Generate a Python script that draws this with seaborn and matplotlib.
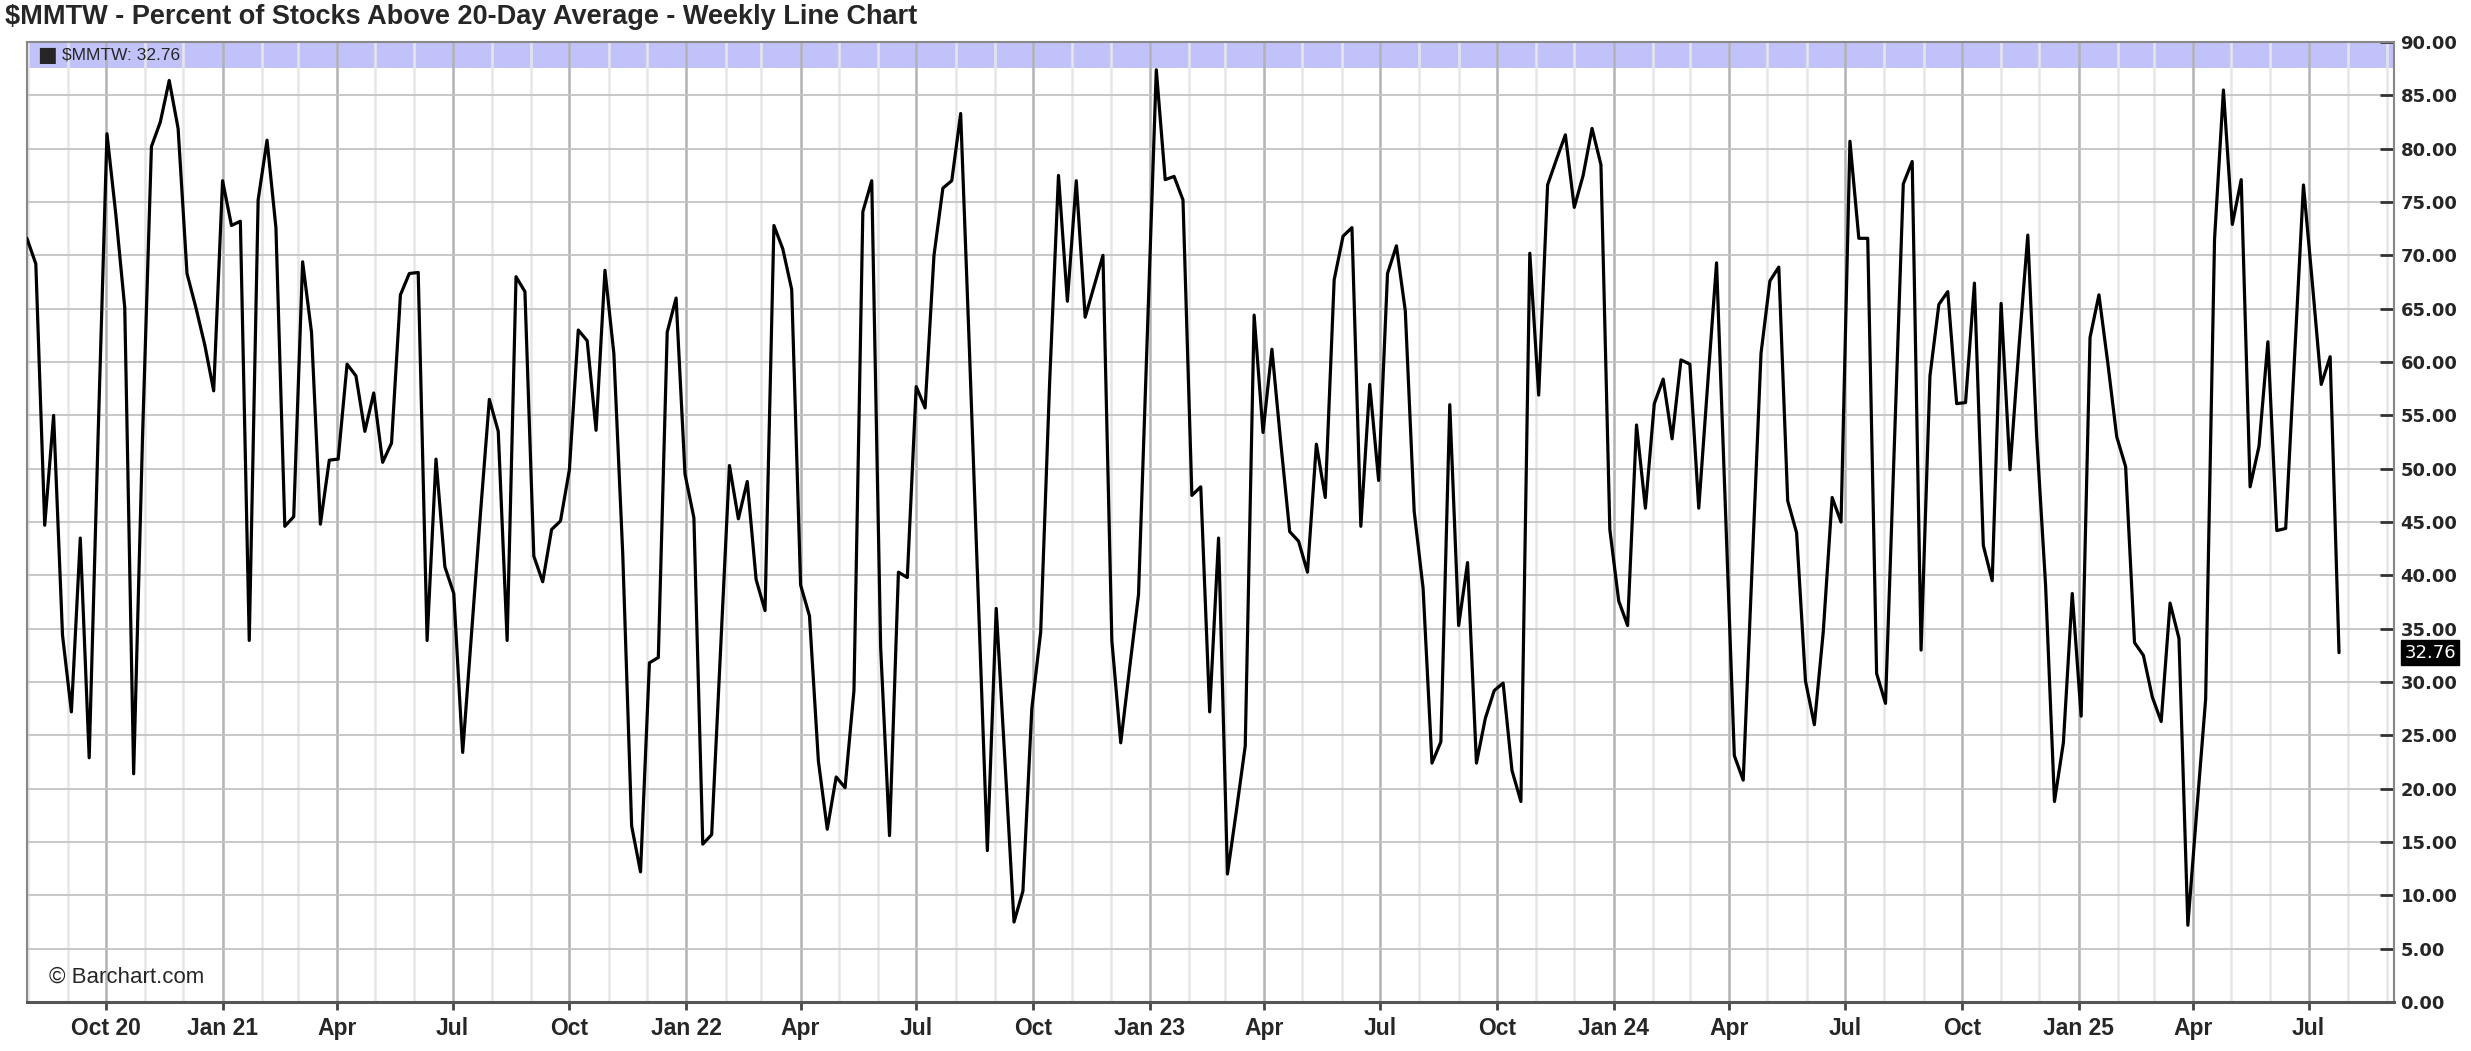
import numpy as np
import pandas as pd
import matplotlib
matplotlib.use("Agg")
import matplotlib.pyplot as plt
import matplotlib.dates as mdates
import seaborn as sns

# ==================================================
# DATA
# ==================================================

symbol = "$MMTW"
chart_title = "$MMTW - Percent of Stocks Above 20-Day Average - Weekly Line Chart"

first_week = "2020-07-31"

pct_above_20d = [
    71.6, 69.2, 44.7, 55.0, 34.4, 27.2, 43.5, 22.9, 53.0, 81.4,
    73.8, 65.1, 21.4, 53.0, 80.2, 82.5, 86.4, 81.9, 68.3, 65.1,
    61.6, 57.3, 77.0, 72.8, 73.2, 33.9, 75.2, 80.8, 72.6, 44.6,
    45.5, 69.4, 62.8, 44.8, 50.8, 50.9, 59.8, 58.7, 53.5, 57.1,
    50.6, 52.4, 66.3, 68.3, 68.4, 33.9, 50.9, 40.8, 38.3, 23.4,
    34.6, 45.8, 56.5, 53.5, 33.9, 68.0, 66.6, 41.8, 39.4, 44.3,
    45.1, 49.9, 63.0, 62.0, 53.6, 68.6, 60.8, 42.0, 16.5, 12.2,
    31.8, 32.3, 62.8, 66.0, 49.5, 45.4, 14.8, 15.7, 33.0, 50.3,
    45.3, 48.8, 39.6, 36.7, 72.8, 70.6, 66.8, 39.1, 36.2, 22.6,
    16.2, 21.1, 20.1, 29.2, 74.1, 77.0, 33.3, 15.6, 40.3, 39.8,
    57.7, 55.7, 70.0, 76.3, 77.0, 83.3, 60.8, 37.6, 14.2, 36.9,
    22.3, 7.5, 10.4, 27.5, 34.7, 58.0, 77.5, 65.7, 77.0, 64.2,
    67.1, 70.0, 33.9, 24.3, 31.3, 38.2, 62.8, 87.4, 77.1, 77.4,
    75.2, 47.5, 48.3, 27.2, 43.5, 12.0, 17.9, 24.0, 64.4, 53.4,
    61.2, 52.4, 44.1, 43.2, 40.3, 52.3, 47.3, 67.7, 71.8, 72.6,
    44.6, 57.9, 48.9, 68.3, 70.9, 64.8, 46.0, 38.8, 22.4, 24.4,
    56.0, 35.3, 41.2, 22.4, 26.6, 29.2, 29.9, 21.7, 18.8, 70.2,
    56.9, 76.6, 79.0, 81.3, 74.5, 77.5, 81.9, 78.5, 44.3, 37.6,
    35.3, 54.1, 46.3, 56.1, 58.4, 52.8, 60.2, 59.8, 46.3, 57.9,
    69.3, 46.2, 23.1, 20.8, 40.8, 60.8, 67.6, 68.9, 47.0, 44.0,
    30.1, 26.0, 34.7, 47.3, 45.0, 80.7, 71.6, 71.6, 30.8, 28.0,
    52.4, 76.7, 78.8, 33.0, 58.7, 65.4, 66.6, 56.1, 56.2, 67.4,
    42.8, 39.5, 65.5, 49.9, 61.3, 71.9, 53.0, 39.1, 18.8, 24.3,
    38.3, 26.8, 62.3, 66.3, 59.9, 53.0, 50.2, 33.7, 32.5, 28.6,
    26.3, 37.4, 34.1, 7.2, 17.9, 28.4, 71.5, 85.5, 72.9, 77.1,
    48.3, 52.1, 61.9, 44.2, 44.4, 60.5, 76.6, 67.4, 57.9, 60.5,
    32.76
]

tick_dates = pd.to_datetime([
    "2020-10-01", "2021-01-01", "2021-04-01", "2021-07-01",
    "2021-10-01", "2022-01-01", "2022-04-01", "2022-07-01",
    "2022-10-01", "2023-01-01", "2023-04-01", "2023-07-01",
    "2023-10-01", "2024-01-01", "2024-04-01", "2024-07-01",
    "2024-10-01", "2025-01-01", "2025-04-01", "2025-07-01"
])

tick_labels = [
    "Oct 20", "Jan 21", "Apr", "Jul",
    "Oct", "Jan 22", "Apr", "Jul",
    "Oct", "Jan 23", "Apr", "Jul",
    "Oct", "Jan 24", "Apr", "Jul",
    "Oct", "Jan 25", "Apr", "Jul"
]

y_ticks = [0, 5, 10, 15, 20, 25, 30, 35, 40, 45, 50, 55, 60, 65, 70, 75, 80, 85, 90]

df = pd.DataFrame({
    "Date": pd.date_range(first_week, periods=len(pct_above_20d), freq="W-FRI"),
    "Value": pct_above_20d
})

last_value = pct_above_20d[-1]

# ==================================================
# STYLE
# ==================================================

sns.set_theme(style="white")
plt.rcParams["font.family"] = ["DejaVu Sans"]

narrow = ["Liberation Sans"]

# ==================================================
# PLOT
# ==================================================

fig = plt.figure(figsize=(24.71, 10.51), dpi=100)
ax = fig.add_axes([0.0109, 0.0466, 0.9578, 0.9134])

sns.lineplot(
    data=df,
    x="Date",
    y="Value",
    color="black",
    linewidth=2.3,
    ax=ax,
    zorder=3
)

ax.set_xlim(df["Date"].iloc[0], pd.Timestamp("2025-09-06"))
ax.set_ylim(0, 90)

# top band with legend
ax.axhspan(87.6, 90, color="#c2c2fb", zorder=0.2, lw=0)

ax.set_axisbelow(True)

# x axis
ax.set_xticks(tick_dates)
ax.set_xticklabels(tick_labels, fontfamily=narrow, fontweight="bold", fontsize=16.5)
ax.xaxis.set_minor_locator(mdates.MonthLocator())
ax.tick_params(axis="x", which="major", direction="out", length=6, width=2,
               color="#444444", pad=5, bottom=True)
ax.tick_params(axis="x", which="minor", length=0)

# y axis on the right
ax.yaxis.tick_right()
ax.set_yticks(y_ticks)
ax.set_yticklabels([f"{v:.2f}" for v in y_ticks], fontweight="bold", fontsize=13)
ax.tick_params(axis="y", direction="in", length=10, width=2, color="#333333",
               pad=5, right=True, left=False)

ax.set_xlabel("")
ax.set_ylabel("")

# grid
ax.grid(which="major", axis="y", color="#c4c4c4", linewidth=1.3)
ax.grid(which="major", axis="x", color="#b2b2b2", linewidth=1.8)
ax.grid(which="minor", axis="x", color="#e6e6e6", linewidth=1.8)

for side in ["left", "right", "top"]:
    ax.spines[side].set_color("#888888")
    ax.spines[side].set_linewidth(1.5)
ax.spines["bottom"].set_color("#555555")
ax.spines["bottom"].set_linewidth(2.2)

# ==================================================
# TEXT
# ==================================================

fig.text(
    0.002, 0.984,
    chart_title.replace("$", "\\$"),
    fontfamily=narrow,
    fontweight="bold",
    fontsize=19.5,
    va="center",
    ha="left"
)

ax.text(
    0.0045, 0.9865,
    "\u25A0",
    transform=ax.transAxes,
    fontsize=15,
    va="center",
    ha="left"
)

ax.text(
    0.0148, 0.9865,
    f"{symbol}: {last_value:.2f}".replace("$", "\\$"),
    transform=ax.transAxes,
    fontfamily=["Liberation Sans"],
    fontsize=12.5,
    va="center",
    ha="left"
)

ax.text(
    0.0095, 0.026,
    "\u00A9 Barchart.com",
    transform=ax.transAxes,
    fontfamily=narrow,
    fontsize=16,
    va="center",
    ha="left"
)

# last value tag on the price axis
ax.text(
    1.0045, last_value,
    f"{last_value:.2f}",
    transform=ax.get_yaxis_transform(),
    color="white",
    fontsize=13,
    va="center",
    ha="left",
    bbox=dict(facecolor="black", edgecolor="black", pad=2.5),
    clip_on=False
)

fig.savefig("out.png", dpi=100)
